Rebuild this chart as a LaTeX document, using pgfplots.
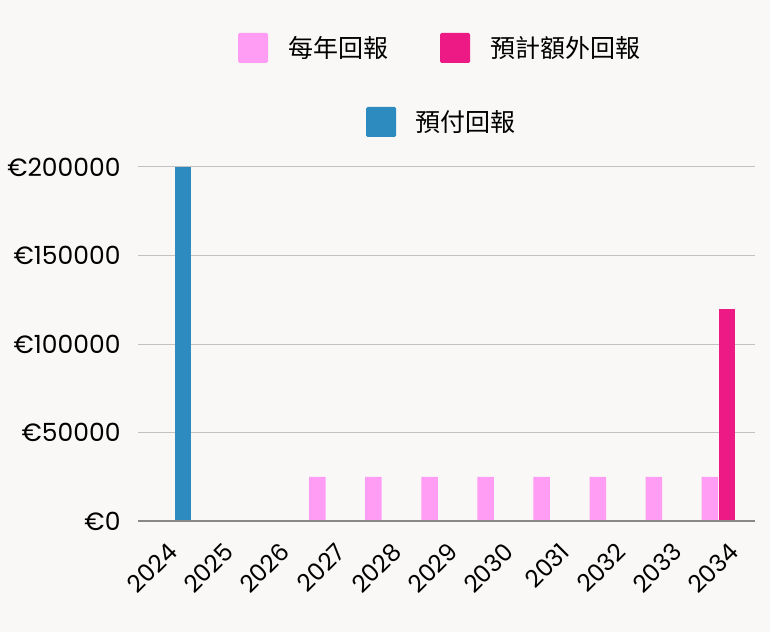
\documentclass[border=0pt]{standalone}
\usepackage{pgfplots}
\pgfplotsset{compat=1.18}
\usepackage{fontspec}
\setmainfont{Poppins}
\newfontfamily\cjk{Noto Sans CJK TC}
\definecolor{bg}{HTML}{F9F8F6}
\definecolor{pinkA}{HTML}{FF9DF5}
\definecolor{magA}{HTML}{ED1A86}
\definecolor{blueA}{HTML}{2E8BC0}
\definecolor{gridc}{HTML}{C2C2C2}
\definecolor{axisc}{HTML}{888888}
\begin{document}
\begin{tikzpicture}[x=1pt,y=1pt]
\fill[bg] (0,0) rectangle (770,632);
\path[use as bounding box] (0,0) rectangle (770,632);
\begin{axis}[
  at={(138pt,111pt)}, anchor=south west,
  scale only axis, width=617pt, height=354pt,
  ybar, bar width=16.5pt,
  xmin=-0.5, xmax=10.5, ymin=0, ymax=200000,
  scaled y ticks=false,
  xtick={0,...,10},
  xticklabels={2024,2025,2026,2027,2028,2029,2030,2031,2032,2033,2034},
  ytick={0,50000,100000,150000,200000},
  yticklabels={€0,€50000,€100000,€150000,€200000},
  axis line style={draw=none},
  major tick length=0pt,
  ymajorgrids, grid style={gridc, line width=1pt},
  /pgf/number format/assume math mode=true,
  y tick label style={font=\fontsize{25}{29}\selectfont, anchor=east, xshift=-14pt},
  x tick label style={font=\fontsize{24}{28}\selectfont, xshift=9pt, yshift=-24pt, rotate=45, anchor=east},
  clip=false,
]
\addplot[fill=pinkA, draw=none, bar shift=-17pt] coordinates {
  (3,25000) (4,25000) (5,25000) (6,25000) (7,25000) (8,25000) (9,25000) (10,25000)};
\addplot[fill=magA, draw=none, bar shift=0pt] coordinates {(10,120000)};
\addplot[fill=blueA, draw=none, bar shift=17pt] coordinates {(0,200000)};
\draw[axisc, line width=1.2pt] (rel axis cs:0,0) -- (rel axis cs:1,0);
\end{axis}
% legend
\fill[pinkA, rounded corners=1.5pt] (238,569) rectangle (268,599);
\node[anchor=west, inner sep=0pt, font=\cjk\fontsize{25}{30}\selectfont] at (288,584) {每年回報};
\fill[magA, rounded corners=1.5pt] (440,569) rectangle (470,599);
\node[anchor=west, inner sep=0pt, font=\cjk\fontsize{25}{30}\selectfont] at (490,584) {預計額外回報};
\fill[blueA, rounded corners=1.5pt] (366,495) rectangle (396,525);
\node[anchor=west, inner sep=0pt, font=\cjk\fontsize{25}{30}\selectfont] at (415,510) {預付回報};
\end{tikzpicture}
\end{document}
